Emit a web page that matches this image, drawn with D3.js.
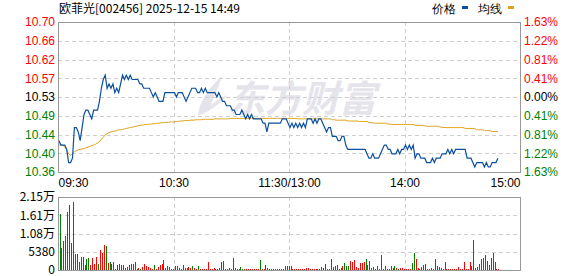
<!DOCTYPE html>
<html>
<head>
<meta charset="utf-8">
<script src="https://cdn.jsdelivr.net/npm/d3@7"></script>
<style>
  body { margin: 0; background: #fff; }
  svg { display: block; }
  text { font-family: Arial, "Liberation Sans", sans-serif; font-size: 12px; }
  .cjk { font-family: "Noto Sans CJK SC", sans-serif; }
</style>
</head>
<body>
<svg width="578" height="276"></svg>
<script>
var title = "欧菲光[002456] 2025-12-15 14:49";
var legendNames = ["价格", "均线"];
var watermark = "东方财富";
var preClose = 10.53;
var pctRange = 0.0163;

var priceTicks = ["10.70", "10.66", "10.62", "10.57", "10.53", "10.49", "10.44", "10.40", "10.36"];
var pctTicks = ["1.63%", "1.22%", "0.81%", "0.41%", "0.00%", "0.41%", "0.81%", "1.22%", "1.63%"];
var volTicks = ["2.15万", "1.61万", "1.08万", "5380", "0"];
var volMax = 21500;
var timeLabels = ["09:30", "10:30", "11:30/13:00", "14:00", "15:00"];
var timeMinutes = [0, 60, 120, 180, 240];

// one value per trading minute from 09:30
var prices = [
  10.43,10.42,10.42,10.42,10.41,10.38,10.38,10.39,10.46,10.46,
  10.45,10.43,10.46,10.49,10.50,10.50,10.49,10.48,10.50,10.50,
  10.50,10.52,10.55,10.57,10.58,10.55,10.56,10.55,10.56,10.54,
  10.55,10.54,10.56,10.58,10.57,10.58,10.57,10.58,10.57,10.57,
  10.57,10.57,10.56,10.56,10.55,10.55,10.55,10.55,10.54,10.53,
  10.54,10.53,10.52,10.52,10.52,10.54,10.54,10.54,10.54,10.54,
  10.54,10.53,10.54,10.54,10.54,10.53,10.52,10.53,10.54,10.55,
  10.55,10.55,10.54,10.54,10.55,10.54,10.55,10.54,10.54,10.54,
  10.54,10.54,10.53,10.54,10.53,10.52,10.52,10.51,10.51,10.51,
  10.50,10.50,10.49,10.49,10.49,10.50,10.49,10.48,10.49,10.48,
  10.49,10.48,10.48,10.48,10.48,10.48,10.47,10.47,10.45,10.47,
  10.47,10.47,10.47,10.47,10.47,10.47,10.48,10.48,10.48,10.47,
  10.46,10.47,10.46,10.47,10.46,10.47,10.46,10.47,10.46,10.48,
  10.48,10.48,10.47,10.48,10.47,10.48,10.48,10.47,10.46,10.45,
  10.46,10.46,10.44,10.44,10.44,10.43,10.43,10.44,10.44,10.42,
  10.41,10.41,10.41,10.41,10.41,10.41,10.41,10.41,10.41,10.41,
  10.40,10.39,10.39,10.40,10.39,10.39,10.39,10.40,10.41,10.42,
  10.42,10.41,10.41,10.40,10.40,10.40,10.41,10.40,10.41,10.41,
  10.42,10.41,10.42,10.41,10.42,10.39,10.40,10.40,10.39,10.39,
  10.39,10.38,10.38,10.38,10.39,10.38,10.39,10.39,10.39,10.40,
  10.40,10.40,10.41,10.40,10.41,10.40,10.41,10.41,10.41,10.41,
  10.41,10.41,10.39,10.39,10.39,10.38,10.37,10.38,10.38,10.38,
  10.38,10.37,10.38,10.37,10.37,10.38,10.38,10.38,10.39
];

var avgPrices = [
  10.420,10.420,10.420,10.415,10.410,10.400,10.397,10.400,10.405,10.407,
  10.409,10.410,10.411,10.412,10.414,10.415,10.417,10.419,10.420,10.422,
  10.425,10.428,10.433,10.438,10.443,10.446,10.449,10.450,10.451,10.452,
  10.453,10.455,10.455,10.456,10.457,10.458,10.459,10.460,10.461,10.462,
  10.463,10.464,10.465,10.466,10.466,10.467,10.467,10.468,10.468,10.469,
  10.469,10.470,10.470,10.471,10.471,10.472,10.472,10.472,10.473,10.473,
  10.473,10.474,10.474,10.475,10.475,10.476,10.476,10.476,10.477,10.477,
  10.477,10.478,10.478,10.478,10.478,10.479,10.479,10.479,10.479,10.479,
  10.479,10.480,10.480,10.480,10.480,10.480,10.480,10.480,10.480,10.481,
  10.481,10.481,10.481,10.481,10.481,10.481,10.481,10.481,10.481,10.481,
  10.481,10.481,10.481,10.481,10.481,10.481,10.481,10.481,10.481,10.481,
  10.481,10.481,10.481,10.481,10.481,10.481,10.481,10.481,10.481,10.481,
  10.481,10.481,10.481,10.481,10.480,10.480,10.480,10.480,10.480,10.480,
  10.480,10.480,10.480,10.480,10.480,10.480,10.480,10.480,10.480,10.480,
  10.480,10.480,10.478,10.478,10.477,10.477,10.477,10.477,10.477,10.477,
  10.475,10.475,10.475,10.475,10.475,10.475,10.474,10.474,10.474,10.474,
  10.474,10.472,10.471,10.471,10.470,10.470,10.470,10.470,10.470,10.470,
  10.470,10.468,10.468,10.467,10.467,10.467,10.467,10.467,10.467,10.467,
  10.467,10.467,10.467,10.467,10.467,10.465,10.465,10.465,10.465,10.465,
  10.464,10.463,10.463,10.463,10.463,10.463,10.463,10.463,10.461,10.461,
  10.460,10.460,10.460,10.460,10.460,10.460,10.460,10.460,10.460,10.460,
  10.460,10.458,10.458,10.458,10.458,10.458,10.458,10.455,10.455,10.455,
  10.455,10.453,10.453,10.453,10.453,10.451,10.451,10.451,10.451
];

var volumes = [
  16550,6600,8500,10000,17200,19000,7900,19900,4700,4700,
  2400,3900,3900,1500,3300,3600,1500,3600,1800,3900,
  1800,5900,5000,7400,7100,2100,2400,1800,2400,400,
  1500,1800,1500,1500,700,1000,1500,1800,1800,2400,
  400,700,400,1000,1800,1200,1000,600,400,1500,
  400,900,1500,1800,3000,700,1200,1000,400,400,
  1200,1200,700,400,1500,700,700,1000,700,1200,
  700,400,1200,400,400,400,400,2400,400,400,
  700,400,400,500,2400,2700,400,400,700,400,
  3600,700,300,300,1000,400,300,300,300,300,
  300,300,300,300,3000,300,300,1500,600,300,
  300,300,300,300,300,300,300,1200,1060,1260,
  1260,390,390,390,390,390,390,390,680,680,
  390,390,390,390,390,390,970,680,1840,390,
  390,3290,970,1260,1550,390,680,1260,2130,1260,
  1260,2710,2420,3000,970,680,2130,2130,2420,3290,
  1550,2710,680,970,390,1260,390,4450,390,1260,
  390,390,1260,680,1260,680,390,680,680,390,
  390,390,390,2130,5030,3290,680,390,970,1550,
  1840,390,390,680,390,3290,1260,970,680,390,
  2420,390,390,390,390,390,390,970,390,390,
  2420,390,390,2420,1260,8810,680,970,1840,3290,
  3580,4360,2710,1550,3580,5030,2420,390,390
];

// r = up minute, g = down minute
var volumeDir = (
  "grrrgrrrrg" + "grrrggrrrr" + "grrrgrggrg" + "rrrrrrggrr" +
  "rrgrrrrrrg" + "rrrrrrrrrg" + "grrrggrrrg" + "rrgrrrrrrr" +
  "rrrrggrrrr" + "grrrggrrrr" + "rrrrgrrgrr" + "rrrrrrrrgr" +
  "grrrrrrrrr" + "rrrrrrgggr" + "rgrrrrrrgg" + "grrrrrrrrg" +
  "grrrrrrrrr" + "rrrrgrgrrr" + "rrrggrrrgr" + "grrrrrrrrr" +
  "rrrrrrrrrr" + "rrrrrggrrr" + "rgrgrrrrr"
).split("");

var svg = d3.select("svg"),
    left = 58, right = 520,
    priceTop = 22, priceBottom = 172,
    volTop = 197, volBottom = 270;

var red = "#ff0000", green = "#008000", lineBlue = "#0b4fa0", avgGold = "#e0a21a";

var x = d3.scaleLinear().domain([0, 240]).range([left, right]);
var y = d3.scaleLinear()
    .domain([preClose * (1 - pctRange), preClose * (1 + pctRange)])
    .range([priceBottom, priceTop]);
var yv = d3.scaleLinear().domain([0, volMax]).range([volBottom, volTop]);

var priceLevels = priceTicks.map(function(d, i) {
  return y.invert(priceTop + (priceBottom - priceTop) * i / (priceTicks.length - 1));
});
var volLevels = volTicks.map(function(d, i) {
  return volMax * (volTicks.length - 1 - i) / (volTicks.length - 1);
});

// watermark
var wm = svg.append("g").attr("fill", "#e4e4ea");
wm.append("path")
    .attr("d", "M198,116 C199,101 209,88 222,76 C219,88 213,97 211,106 C217,99 223,97 227,95 C220,104 210,111 198,116 Z");
wm.append("text")
    .attr("x", 228).attr("y", 112)
    .style("font-family", "'Noto Sans CJK SC', sans-serif")
    .style("font-size", "37px").style("font-weight", "bold")
    .style("font-style", "italic")
    .text(watermark);

function grid(top, bottom, levels, scale) {
  var g = svg.append("g")
      .attr("stroke", "#cfcfcf")
      .attr("stroke-dasharray", "4,3")
      .attr("shape-rendering", "crispEdges");
  g.selectAll("line.h")
    .data(levels.slice(1, -1))
    .enter().append("line")
      .attr("x1", left).attr("x2", right)
      .attr("y1", function(d) { return Math.round(scale(d)) + 0.5; })
      .attr("y2", function(d) { return Math.round(scale(d)) + 0.5; });
  g.selectAll("line.v")
    .data(timeMinutes.slice(1, -1))
    .enter().append("line")
      .attr("x1", function(d) { return Math.round(x(d)) + 0.5; })
      .attr("x2", function(d) { return Math.round(x(d)) + 0.5; })
      .attr("y1", top).attr("y2", bottom);
}
grid(priceTop, priceBottom, priceLevels, y);
grid(volTop, volBottom, volLevels, yv);

// average line
svg.append("path")
    .datum(avgPrices)
    .attr("fill", "none")
    .attr("stroke", avgGold)
    .attr("stroke-width", 1)
    .attr("d", d3.line()
        .x(function(d, i) { return x(i) + 1; })
        .y(function(d) { return y(d); }));

// price line
svg.append("path")
    .datum(prices)
    .attr("fill", "none")
    .attr("stroke", lineBlue)
    .attr("stroke-width", 1.2)
    .attr("d", d3.line()
        .x(function(d, i) { return x(i) + 1; })
        .y(function(d) { return y(d); }));

// volume bars
svg.append("g")
    .attr("shape-rendering", "crispEdges")
  .selectAll("rect")
    .data(volumes)
  .enter().append("rect")
    .attr("x", function(d, i) { return Math.round(x(i) + 1.5); })
    .attr("width", 1)
    .attr("y", function(d) { return yv(d); })
    .attr("height", function(d) { return volBottom - yv(d); })
    .attr("fill", function(d, i) { return volumeDir[i] === "r" ? red : green; });

// frames
[[priceTop, priceBottom], [volTop, volBottom]].forEach(function(p) {
  svg.append("rect")
      .attr("x", left + 0.5).attr("y", p[0] + 0.5)
      .attr("width", right - left).attr("height", p[1] - p[0])
      .attr("fill", "none")
      .attr("stroke", "#999")
      .attr("shape-rendering", "crispEdges");
});

function levelColor(i, n) {
  var mid = (n - 1) / 2;
  return i < mid ? red : i > mid ? green : "#000";
}

var leftAxis = svg.append("g")
    .attr("transform", "translate(" + left + ",0)")
    .call(d3.axisLeft(y).tickValues(priceLevels).tickSize(0).tickPadding(3)
        .tickFormat(function(d, i) { return priceTicks[i]; }));
leftAxis.selectAll("text").attr("fill", function(d, i) { return levelColor(i, priceTicks.length); });

var rightAxis = svg.append("g")
    .attr("transform", "translate(" + right + ",0)")
    .call(d3.axisRight(y).tickValues(priceLevels).tickSize(0).tickPadding(4)
        .tickFormat(function(d, i) { return pctTicks[i]; }));
rightAxis.selectAll("text").attr("fill", function(d, i) { return levelColor(i, pctTicks.length); });

var timeAxis = svg.append("g")
    .attr("transform", "translate(0," + priceBottom + ")")
    .call(d3.axisBottom(x).tickValues(timeMinutes).tickSize(0).tickPadding(6)
        .tickFormat(function(d, i) { return timeLabels[i]; }));
timeAxis.selectAll("text")
    .attr("fill", "#000")
    .attr("text-anchor", function(d, i) { return i === 0 ? "start" : i === timeLabels.length - 1 ? "end" : "middle"; });

var volAxis = svg.append("g")
    .attr("transform", "translate(" + left + ",0)")
    .call(d3.axisLeft(yv).tickValues(volLevels).tickSize(0).tickPadding(3)
        .tickFormat(function(d, i) { return volTicks[i]; }));
volAxis.selectAll("text").attr("fill", "#000").attr("class", "cjk");

svg.selectAll(".domain").remove();
svg.selectAll(".tick text").attr("font-size", "12px").attr("font-family", null);

// title and legend
svg.append("text")
    .attr("class", "cjk")
    .attr("x", 59).attr("y", 13)
    .attr("fill", "#000")
    .text(title);

var legend = svg.append("g").attr("class", "cjk");
legend.append("text").attr("x", 432).attr("y", 13).text(legendNames[0]);
legend.append("rect").attr("x", 462).attr("y", 6).attr("width", 6).attr("height", 3).attr("fill", lineBlue);
legend.append("text").attr("x", 478).attr("y", 13).text(legendNames[1]);
legend.append("rect").attr("x", 508).attr("y", 6).attr("width", 6).attr("height", 3).attr("fill", avgGold);
</script>
</body>
</html>
